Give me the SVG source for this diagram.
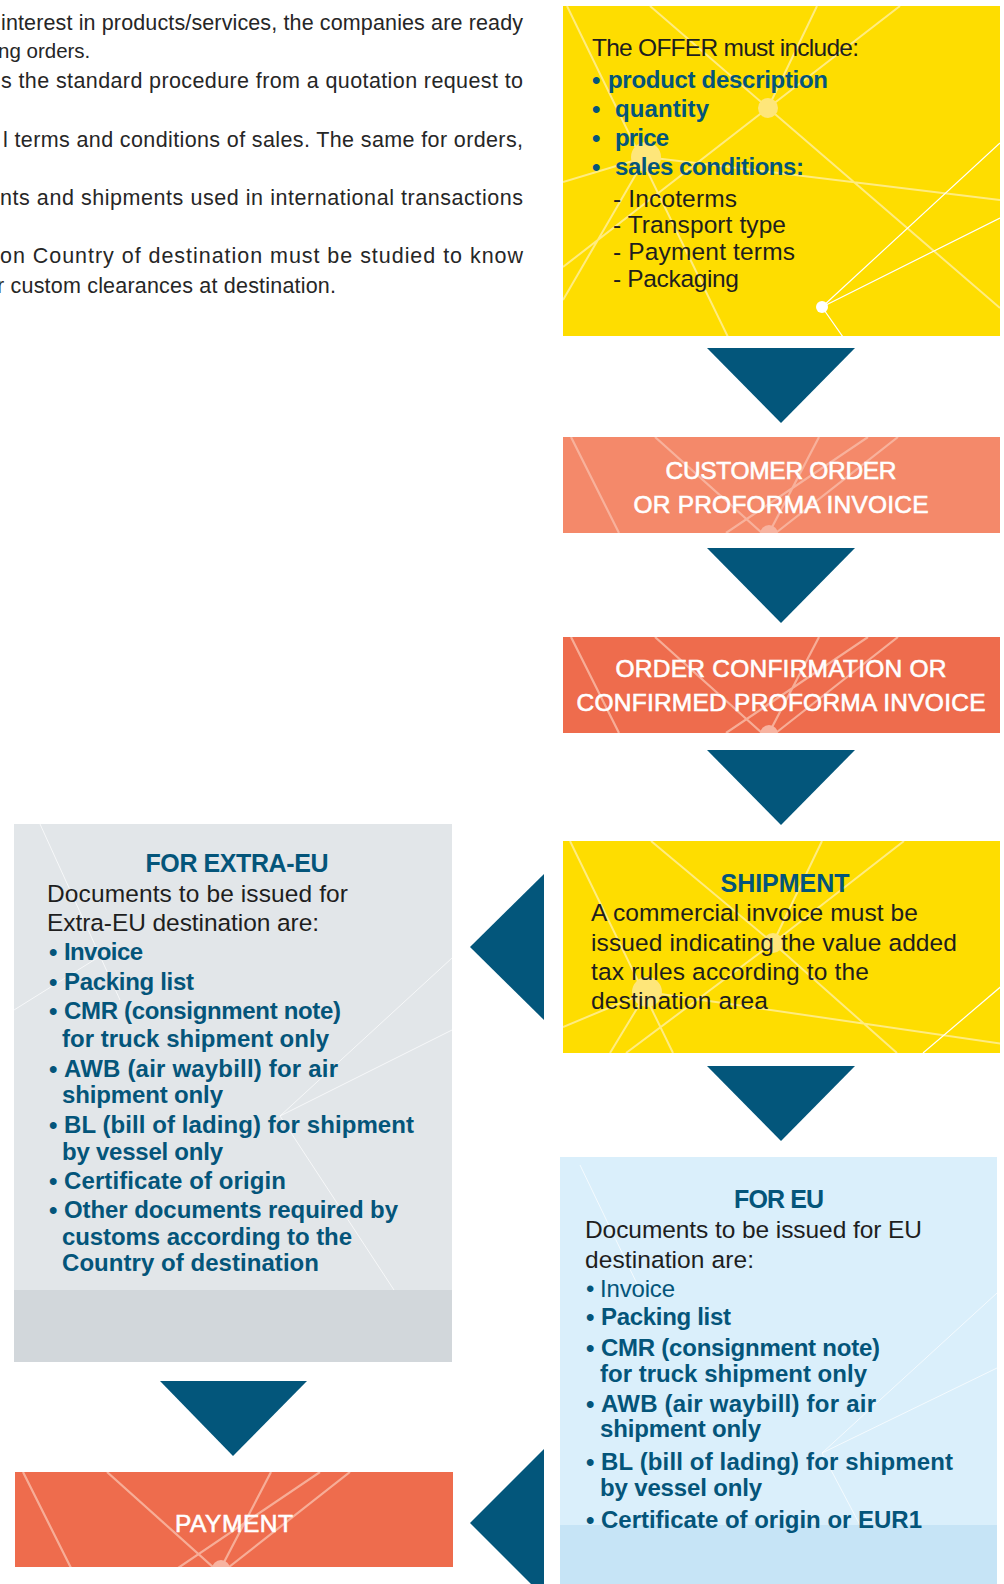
<svg xmlns="http://www.w3.org/2000/svg" width="1004" height="1584" viewBox="0 0 1004 1584">
<style>
text{font-family:"Liberation Sans",Arial,sans-serif}
.p{font-size:21.5px;fill:#262626}
.dk{font-size:24.5px;fill:#1e1e1e}
.bl{font-size:24px;fill:#04557a;font-weight:bold}
.blr{font-size:24px;fill:#04557a}
.ttl{font-size:25px;fill:#04557a;font-weight:bold;text-anchor:middle}
.wt{font-size:24.5px;fill:#ffffff;stroke:#ffffff;stroke-width:0.6;text-anchor:middle}
.arr{fill:#03567b}
.ly{stroke:#ffec80;stroke-width:2;fill:none}
.lw{stroke:#ffffff;stroke-width:1.2;fill:none}
.lo{stroke:#f8b8a4;stroke-width:2.2;fill:none;opacity:.85}
.lg{stroke:#ffffff;stroke-width:1;fill:none;opacity:.7}
</style>
<defs>
<clipPath id="cOffer"><rect x="563" y="6" width="437" height="330"/></clipPath>
<clipPath id="cShip"><rect x="563" y="841" width="437" height="212"/></clipPath>
<clipPath id="cCust"><rect x="563" y="437" width="437" height="96"/></clipPath>
<clipPath id="cConf"><rect x="563" y="637" width="437" height="96"/></clipPath>
<clipPath id="cPay"><rect x="15" y="1472" width="438" height="95"/></clipPath>
<clipPath id="cExtra"><rect x="14" y="824" width="438" height="538"/></clipPath>
<clipPath id="cEU"><rect x="560" y="1157" width="437" height="427"/></clipPath>
<g id="orangePattern">
<path class="lo" d="M8 0L56 96M92 0L199 96M163 96L305 0M206 96L256 0M214 95L335 0"/>
<circle cx="206" cy="97" r="9" fill="#f7b3a0"/>
</g>
</defs>

<g id="intro-text">
<text class="p" x="1" y="30" textLength="522">interest in products/services, the companies are ready</text>
<text class="p" x="-2" y="58" style="font-size:20.5px">ng orders.</text>
<text class="p" x="1" y="88" textLength="522">s the standard procedure from a quotation request to</text>
<text class="p" x="3" y="147" textLength="520">l terms and conditions of sales. The same for orders,</text>
<text class="p" x="0" y="205" textLength="523">nts and shipments used in international transactions</text>
<text class="p" x="0" y="263" textLength="523">on Country of destination must be studied to know</text>
<text class="p" x="-3" y="293" textLength="339">r custom clearances at destination.</text>
</g>

<g id="connectors">
<polygon class="arr" points="707,348 855,348 781,423"/>
<polygon class="arr" points="707,548 855,548 781,623"/>
<polygon class="arr" points="707,750 855,750 781,825"/>
<polygon class="arr" points="544,874 544,1020 470,947"/>
<polygon class="arr" points="707,1066 855,1066 781,1141"/>
<polygon class="arr" points="160,1381 307,1381 233,1456"/>
<polygon class="arr" points="544,1449 544,1597 470,1523"/>
</g>

<g id="offer">
<rect x="563" y="6" width="437" height="330" fill="#fedd00"/>
<g clip-path="url(#cOffer)">
<path class="ly" d="M567 6L728 337M650 6L768 108L1000 308M817 6L768 108M900 6L768 108M768 108L563 267M563 182L646 157L1000 200M646 157L563 300"/>
<circle cx="768" cy="108" r="10" fill="#fee67a"/>
<circle cx="646" cy="157" r="15" fill="#fee67a"/>
<path class="lw" d="M822 307L1000 143M822 307L1000 218M822 307L843 337"/>
<circle cx="822" cy="307" r="6" fill="#ffffff"/>
</g>
<text class="dk" x="592" y="56" textLength="267">The OFFER must include:</text>
<text class="bl" x="592" y="88">•</text>
<text class="bl" x="608" y="88" textLength="220">product description</text>
<text class="bl" x="592" y="117">•</text>
<text class="bl" x="615" y="117" textLength="94">quantity</text>
<text class="bl" x="592" y="146">•</text>
<text class="bl" x="615" y="146" textLength="54">price</text>
<text class="bl" x="592" y="175">•</text>
<text class="bl" x="615" y="175" textLength="189">sales conditions:</text>
<text class="dk" x="613" y="207" textLength="124">- Incoterms</text>
<text class="dk" x="613" y="233" textLength="173">- Transport type</text>
<text class="dk" x="613" y="260" textLength="182">- Payment terms</text>
<text class="dk" x="613" y="287" textLength="126">- Packaging</text>
</g>

<g id="customer-order">
<rect x="563" y="437" width="437" height="96" fill="#f4896a"/>
<g clip-path="url(#cCust)"><use href="#orangePattern" transform="translate(563,437)"/></g>
<text class="wt" x="781" y="479" textLength="231">CUSTOMER ORDER</text>
<text class="wt" x="781" y="513" textLength="295">OR PROFORMA INVOICE</text>
</g>

<g id="order-confirmation">
<rect x="563" y="637" width="437" height="96" fill="#ee6c4d"/>
<g clip-path="url(#cConf)"><use href="#orangePattern" transform="translate(563,637)"/></g>
<text class="wt" x="781" y="677" textLength="331">ORDER CONFIRMATION OR</text>
<text class="wt" x="781" y="711" textLength="409">CONFIRMED PROFORMA INVOICE</text>
</g>

<g id="shipment">
<rect x="563" y="841" width="437" height="212" fill="#fedd00"/>
<g clip-path="url(#cShip)">
<path class="ly" d="M570 841L673 1053M651 841L773 943L897 1053M822 841L773 943M904 841L773 943M773 943L626 1053M563 1027L647 992L1004 1044M647 992L610 1053"/>
<circle cx="773" cy="943" r="10" fill="#fee67a"/>
<circle cx="647" cy="992" r="15" fill="#fee67a"/>
<path class="lw" d="M1004 984L923 1053"/>
</g>
<text class="ttl" x="785" y="892" textLength="129">SHIPMENT</text>
<text class="dk" x="591" y="921" textLength="327">A commercial invoice must be</text>
<text class="dk" x="591" y="951" textLength="366">issued indicating the value added</text>
<text class="dk" x="591" y="980" textLength="278">tax rules according to the</text>
<text class="dk" x="591" y="1009" textLength="177">destination area</text>
</g>

<g id="extra-eu">
<rect x="14" y="824" width="438" height="538" fill="#e2e6e9"/>
<rect x="14" y="1290" width="438" height="72" fill="#d2d7db"/>
<g clip-path="url(#cExtra)">
<path class="lg" d="M280 1116L452 958M280 1116L452 1030M280 1116L394 1290"/>
<path class="lg" d="M40 824L120 1000M14 1010L110 950" opacity=".35"/>
</g>
<text class="ttl" x="237" y="872" textLength="183">FOR EXTRA-EU</text>
<text class="dk" x="47" y="902" textLength="301">Documents to be issued for</text>
<text class="dk" x="47" y="931" textLength="272">Extra-EU destination are:</text>
<text class="bl" x="49" y="960">•</text><text class="bl" x="64" y="960" textLength="79">Invoice</text>
<text class="bl" x="49" y="990">•</text><text class="bl" x="64" y="990" textLength="130">Packing list</text>
<text class="bl" x="49" y="1019">•</text><text class="bl" x="64" y="1019" textLength="277">CMR (consignment note)</text>
<text class="bl" x="62" y="1047" textLength="267">for truck shipment only</text>
<text class="bl" x="49" y="1077">•</text><text class="bl" x="64" y="1077" textLength="274">AWB (air waybill) for air</text>
<text class="bl" x="62" y="1103" textLength="161">shipment only</text>
<text class="bl" x="49" y="1133">•</text><text class="bl" x="64" y="1133" textLength="350">BL (bill of lading) for shipment</text>
<text class="bl" x="62" y="1160" textLength="161">by vessel only</text>
<text class="bl" x="49" y="1189">•</text><text class="bl" x="64" y="1189" textLength="222">Certificate of origin</text>
<text class="bl" x="49" y="1218">•</text><text class="bl" x="64" y="1218" textLength="334">Other documents required by</text>
<text class="bl" x="62" y="1245" textLength="290">customs according to the</text>
<text class="bl" x="62" y="1271" textLength="257">Country of destination</text>
</g>

<g id="for-eu">
<rect x="560" y="1157" width="437" height="427" fill="#daeffb"/>
<rect x="560" y="1525" width="437" height="59" fill="#c6e4f6"/>
<g clip-path="url(#cEU)">
<path class="lg" d="M822 1453L997 1293M822 1453L997 1368M822 1453L860 1525"/>
<path class="lg" d="M580 1165L640 1290" opacity=".35"/>
</g>
<text class="ttl" x="779" y="1208" textLength="90">FOR EU</text>
<text class="dk" x="585" y="1238" textLength="337">Documents to be issued for EU</text>
<text class="dk" x="585" y="1268" textLength="169">destination are:</text>
<text class="blr" x="586" y="1297">•</text><text class="blr" x="600" y="1297" textLength="75">Invoice</text>
<text class="bl" x="586" y="1325">•</text><text class="bl" x="601" y="1325" textLength="130">Packing list</text>
<text class="bl" x="586" y="1356">•</text><text class="bl" x="601" y="1356" textLength="279">CMR (consignment note)</text>
<text class="bl" x="600" y="1382" textLength="267">for truck shipment only</text>
<text class="bl" x="586" y="1412">•</text><text class="bl" x="601" y="1412" textLength="275">AWB (air waybill) for air</text>
<text class="bl" x="600" y="1437" textLength="161">shipment only</text>
<text class="bl" x="586" y="1470">•</text><text class="bl" x="601" y="1470" textLength="352">BL (bill of lading) for shipment</text>
<text class="bl" x="600" y="1496" textLength="162">by vessel only</text>
<text class="bl" x="586" y="1528">•</text><text class="bl" x="601" y="1528" textLength="321">Certificate of origin or EUR1</text>
</g>

<g id="payment">
<rect x="15" y="1472" width="438" height="95" fill="#ee6c4d"/>
<g clip-path="url(#cPay)"><use href="#orangePattern" transform="translate(15,1472)"/></g>
<text class="wt" x="234" y="1532" textLength="118">PAYMENT</text>
</g>
</svg>
